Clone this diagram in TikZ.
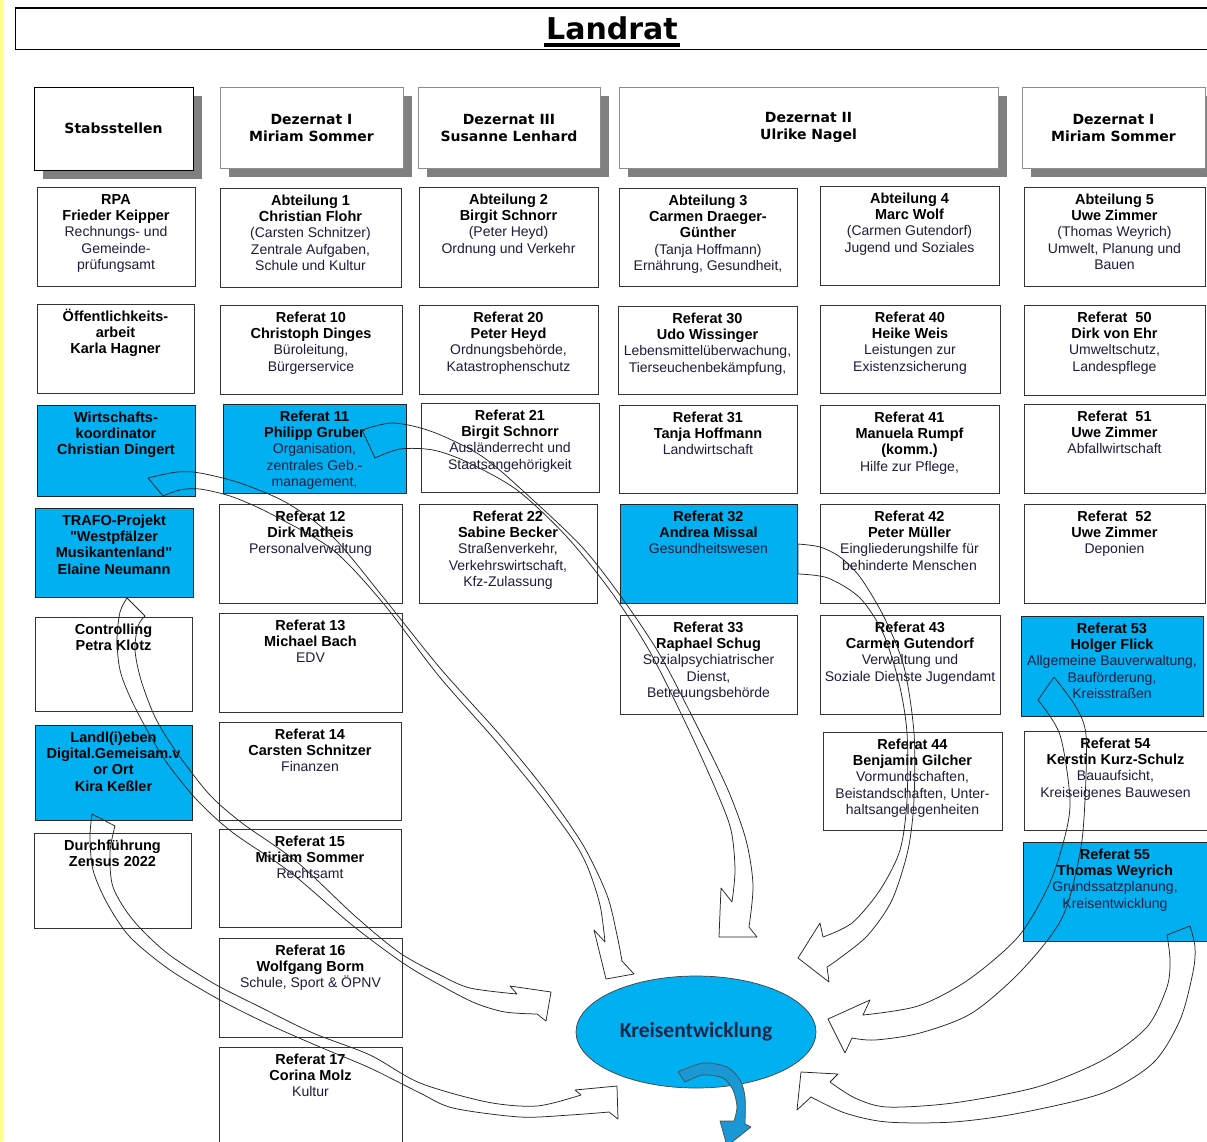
\documentclass[tikz,border=0pt]{standalone}
\usepackage{fontspec}
\setmainfont{Liberation Sans}[Ligatures=TeXOff]
\newfontfamily\dejavu{DejaVu Sans}
\newfontfamily\carlito{Carlito}
\usetikzlibrary{calc,shapes.geometric}
\definecolor{kblue}{HTML}{00B0F0}
\definecolor{txtc}{HTML}{1C1C3C}
\definecolor{shadowc}{HTML}{808080}
\definecolor{yelc}{HTML}{FFFF88}
\definecolor{arrblue}{HTML}{1A98D5}
\definecolor{kntext}{HTML}{14284A}
\tikzset{
  wbox/.style={draw=black!80, line width=1pt, fill=white, inner sep=0pt, outer sep=0pt},
  bbox/.style={draw=black!85, line width=1pt, fill=kblue, inner sep=0pt, outer sep=0pt},
  btext/.style={align=center, inner sep=0pt, font=\fontsize{14.5}{16.3}\selectfont\bfseries},
  hdr/.style={draw=black!45, line width=0.8pt, fill=white, inner sep=0pt, outer sep=0pt, align=center, font=\dejavu\bfseries\fontsize{14}{17}\selectfont},
  hdrS/.style={hdr, draw=black, line width=0.9pt},
  barrow/.style={draw=black!85, line width=0.75pt, line join=round},
}
\newcommand\rgl[1]{{\mdseries\fontsize{14}{16.3}\selectfont\color{txtc}#1}}
\newcommand\obox[7]{%
  \node[#6, minimum width={#4-#2}, minimum height={#5-#3}, anchor=north west] (#1) at (#2,#3) {};
  \node[btext, anchor=north] (#1t) at ($(#1.north)+(0,4.5)$) {\rule{0pt}{12.5pt}#7};
}
\newcommand\hdrbox[7]{%
  \fill[shadowc] ({#2+9},{#3+9}) rectangle ({#4+9},{#5+9});
  \node[#6, minimum width={#4-#2}, minimum height={#5-#3}, anchor=north west] (#1) at (#2,#3) {#7};
}
\begin{document}
\begin{tikzpicture}[x=1pt, y=-1pt]
\useasboundingbox (0,0) rectangle (1207,1141);
\fill[white] (0,0) rectangle (1207,1141);
\fill[yelc] (0,0) rectangle (3,1141);

% Landrat header
\node[draw=black, line width=1.1pt, minimum width=1215, minimum height=41, anchor=north west, inner sep=0pt] (lrframe) at (15,8) {};
\draw[line width=2pt] (lrframe.north west) -- (lrframe.north east);
\node[font=\dejavu\bfseries\fontsize{30}{36}\selectfont, inner sep=0pt, anchor=base] (landrat) at (612,39) {Landrat};
\fill ($(landrat.base west)+(-2,4)$) rectangle ($(landrat.base east)+(2,8)$);

% Dezernat headers
\hdrbox{hS}{34}{87}{193}{170}{hdrS}{Stabsstellen}
\hdrbox{hD1}{220}{87}{403}{168}{hdr}{Dezernat I\\Miriam Sommer}
\hdrbox{hD3}{418}{87}{600}{168}{hdr}{Dezernat III\\Susanne Lenhard}
\hdrbox{hD2}{619}{87}{998}{168}{hdr}{Dezernat II\\Ulrike Nagel}
\hdrbox{hD1b}{1022}{87}{1205}{168}{hdr}{Dezernat I\\Miriam Sommer}

% Stabsstellen
\obox{rpa}{37}{187}{195}{286}{wbox}{RPA\\Frieder Keipper\\\rgl{Rechnungs- und}\\\rgl{Gemeinde-}\\\rgl{prüfungsamt}}
\obox{oeff}{37}{304}{194}{393}{wbox}{Öffentlichkeits-\\arbeit\\Karla Hagner}
\obox{wk}{37}{405}{195}{496}{bbox}{Wirtschafts-\\koordinator\\Christian Dingert}
\obox{trafo}{35}{508}{193}{597}{bbox}{TRAFO-Projekt\\"Westpfälzer\\Musikantenland"\\Elaine Neumann}
\obox{ctrl}{35}{617}{192}{711}{wbox}{Controlling\\Petra Klotz}
\obox{landl}{35}{725}{192}{820}{bbox}{Landl(i)eben\\Digital.Gemeisam.v\\or Ort\\Kira Keßler}
\obox{zensus}{34}{833}{191}{928}{wbox}{Durchführung\\Zensus 2022}

% Dezernat I
\obox{ab1}{220}{188}{401}{287}{wbox}{Abteilung 1\\Christian Flohr\\\rgl{(Carsten Schnitzer)}\\\rgl{Zentrale Aufgaben,}\\\rgl{Schule und Kultur}}
\obox{r10}{220}{305}{402}{394}{wbox}{Referat 10\\Christoph Dinges\\\rgl{Büroleitung,}\\\rgl{Bürgerservice}}
\obox{r11}{223}{404}{406}{493}{bbox}{Referat 11\\Philipp Gruber\\\rgl{Organisation,}\\\rgl{zentrales Geb.-}\\\rgl{management,}}
\obox{r12}{219}{504}{402}{603}{wbox}{Referat 12\\Dirk Matheis\\\rgl{Personalverwaltung}}
\obox{r13}{219}{613}{402}{712}{wbox}{Referat 13\\Michael Bach\\\rgl{EDV}}
\obox{r14}{219}{722}{401}{820}{wbox}{Referat 14\\Carsten Schnitzer\\\rgl{Finanzen}}
\obox{r15}{219}{829}{401}{927}{wbox}{Referat 15\\Miriam Sommer\\\rgl{Rechtsamt}}
\obox{r16}{219}{938}{402}{1037}{wbox}{Referat 16\\Wolfgang Borm\\\rgl{Schule, Sport \& ÖPNV}}
\obox{r17}{219}{1047}{402}{1160}{wbox}{Referat 17\\Corina Molz\\\rgl{Kultur}}

% Dezernat III
\obox{ab2}{419}{187}{598}{287}{wbox}{Abteilung 2\\Birgit Schnorr\\\rgl{(Peter Heyd)}\\\rgl{Ordnung und Verkehr}}
\obox{r20}{419}{305}{598}{394}{wbox}{Referat 20\\Peter Heyd\\\rgl{Ordnungsbehörde,}\\\rgl{Katastrophenschutz}}
\obox{r21}{421}{403}{599}{492}{wbox}{Referat 21\\Birgit Schnorr\\\rgl{Ausländerrecht und}\\\rgl{Staatsangehörigkeit}}
\obox{r22}{419}{504}{597}{603}{wbox}{Referat 22\\Sabine Becker\\\rgl{Straßenverkehr,}\\\rgl{Verkehrswirtschaft,}\\\rgl{Kfz-Zulassung}}

% Dezernat II
\obox{ab3}{619}{188}{797}{286}{wbox}{Abteilung 3\\Carmen Draeger-\\Günther\\\rgl{(Tanja Hoffmann)}\\\rgl{Ernährung, Gesundheit,}}
\obox{r30}{618}{306}{797}{394}{wbox}{Referat 30\\Udo Wissinger\\\rgl{Lebensmittelüberwachung,}\\\rgl{Tierseuchenbekämpfung,}}
\obox{r31}{619}{405}{797}{493}{wbox}{Referat 31\\Tanja Hoffmann\\\rgl{Landwirtschaft}}
\obox{r32}{620}{504}{797}{603}{bbox}{Referat 32\\Andrea Missal\\\rgl{Gesundheitswesen}}
\obox{r33}{620}{615}{797}{714}{wbox}{Referat 33\\Raphael Schug\\\rgl{Sozialpsychiatrischer}\\\rgl{Dienst,}\\\rgl{Betreuungsbehörde}}
\obox{ab4}{820}{186}{999}{285}{wbox}{Abteilung 4\\Marc Wolf\\\rgl{(Carmen Gutendorf)}\\\rgl{Jugend und Soziales}}
\obox{r40}{820}{305}{1000}{393}{wbox}{Referat 40\\Heike Weis\\\rgl{Leistungen zur}\\\rgl{Existenzsicherung}}
\obox{r41}{820}{405}{999}{493}{wbox}{Referat 41\\Manuela Rumpf\\(komm.)\\\rgl{Hilfe zur Pflege,}}
\obox{r42}{820}{504}{999}{603}{wbox}{Referat 42\\Peter Müller\\\rgl{Eingliederungshilfe für}\\\rgl{behinderte Menschen}}
\obox{r43}{820}{615}{1000}{714}{wbox}{Referat 43\\Carmen Gutendorf\\\rgl{Verwaltung und}\\\rgl{Soziale Dienste Jugendamt}}
\obox{r44}{823}{732}{1002}{830}{wbox}{Referat 44\\Benjamin Gilcher\\\rgl{Vormundschaften,}\\\rgl{Beistandschaften, Unter-}\\\rgl{haltsangelegenheiten}}

% Dezernat I (right)
\obox{ab5}{1024}{187}{1205}{286}{wbox}{Abteilung 5\\Uwe Zimmer\\\rgl{(Thomas Weyrich)}\\\rgl{Umwelt, Planung und}\\\rgl{Bauen}}
\obox{r50}{1024}{305}{1205}{395}{wbox}{Referat\ \ 50\\Dirk von Ehr\\\rgl{Umweltschutz,}\\\rgl{Landespflege}}
\obox{r51}{1024}{404}{1205}{493}{wbox}{Referat\ \ 51\\Uwe Zimmer\\\rgl{Abfallwirtschaft}}
\obox{r52}{1024}{504}{1205}{603}{wbox}{Referat\ \ 52\\Uwe Zimmer\\\rgl{Deponien}}
\obox{r53}{1021}{616}{1203}{716}{bbox}{Referat 53\\Holger Flick\\\rgl{Allgemeine Bauverwaltung,}\\\rgl{Bauförderung,}\\\rgl{Kreisstraßen}}
\obox{r54}{1024}{731}{1207}{830}{wbox}{Referat 54\\Kerstin Kurz-Schulz\\\rgl{Bauaufsicht,}\\\rgl{Kreiseigenes Bauwesen}}
\obox{r55}{1023}{842}{1207}{941}{bbox}{Referat 55\\Thomas Weyrich\\\rgl{Grundssatzplanung,}\\\rgl{Kreisentwicklung}}

% Kreisentwicklung
\node[ellipse, minimum width=240, minimum height=112, inner sep=0pt, fill=kblue, draw=black!75, line width=0.7pt, font=\carlito\bfseries\fontsize{21.5}{26}\selectfont, text=kntext] (ke) at (696,1032) {Kreisentwicklung};

% ---- arrow tails (relative to source nodes) and heads ----
\coordinate (wTo) at ($(wk.south west)+(111,-18)$);
\coordinate (wTi) at ($(wk.south west)+(126,0)$);
\coordinate (wB1) at (594,930); \coordinate (wTip) at (606,979); \coordinate (wB2) at (634,974);

\coordinate (aTo) at ($(r11.north west)+(139,26)$);
\coordinate (aTi) at ($(r11.north west)+(152,54)$);
\coordinate (aB1) at (721,888); \coordinate (aTip) at (719,937); \coordinate (aB2) at (757,937);

\coordinate (bTo) at ($(r32.north east)+(1,40)$);
\coordinate (bTi) at ($(r32.north east)+(1,70)$);
\coordinate (bB1) at (820,923); \coordinate (bTip) at (798,958); \coordinate (bB2) at (829,982);

\coordinate (cTo) at ($(r53.north west)+(33,61)$);
\coordinate (cTi) at ($(r53.north west)+(17,84)$);
\coordinate (cB1) at (870,1000); \coordinate (cTip) at (828,1019); \coordinate (cB2) at (845,1053);

\coordinate (dTo) at ($(r55.north west)+(167,84)$);
\coordinate (dTi) at ($(r55.north west)+(144,93)$);
\coordinate (dB1) at (838,1074); \coordinate (dTip) at (801,1072); \coordinate (dB2) at (797,1110);

\coordinate (eTo) at ($(trafo.south west)+(92,1)$);
\coordinate (eTi) at ($(trafo.south west)+(110,19)$);
\coordinate (eB1) at (510,986); \coordinate (eTip) at (551,992); \coordinate (eB2) at (546,1021);

\coordinate (fTo) at ($(landl.south west)+(57,-6)$);
\coordinate (fTi) at ($(landl.south west)+(80,6)$);
\coordinate (fB1) at (575,1090); \coordinate (fTip) at (617,1086); \coordinate (fB2) at (618,1119);

\coordinate (gTo) at ($(ke)+(-18,40)$);
\coordinate (gTi) at ($(ke)+(-11,50)$);
\coordinate (gB1) at (720,1121); \coordinate (gTip) at (727,1146); \coordinate (gB2) at (751,1127);

% Wirtschaftskoordinator -> Kreisentwicklung
\draw[barrow] plot[smooth] coordinates {(wTo) (177,472) (200,473) (240,483) (287,503) (333,537) (383,597) (440,668) (500,735) (545,790) (583,845) (607,895) (617,935) (622,961)}
  -- (wB2) -- (wTip) -- (wB1)
  -- plot[smooth] coordinates {(605,942) (600,905) (588,868) (573,840) (540,795) (495,740) (438,675) (383,603) (333,550) (273,515) (233,497) (200,489) (180,490) (wTi)} -- cycle;

% Referat 11 -> Kreisentwicklung
\draw[barrow] plot[smooth] coordinates {(aTo) (393,423) (433,432) (483,457) (533,500) (583,548) (622,598) (660,655) (698,728) (728,790) (746,840) (753,885) (749,927)}
  -- (aB2) -- (aTip) -- (aB1)
  -- plot[smooth] coordinates {(732,902) (735,870) (731,830) (716,790) (688,728) (650,652) (612,593) (567,537) (517,490) (467,462) (433,450) (400,449) (aTi)} -- cycle;

% Referat 32 -> Kreisentwicklung
\draw[barrow] plot[smooth] coordinates {(bTo) (820,547) (840,557) (860,577) (884,617) (904,667) (914,733) (914,800) (908,850) (892,900) (868,935) (840,958) (827,967)}
  -- (bB2) -- (bTip) -- (bB1)
  -- plot[smooth] coordinates {(823,937) (852,923) (880,890) (900,850) (907,800) (907,733) (899,683) (883,633) (860,598) (828,578) (bTi)} -- cycle;

% Referat 53 -> Kreisentwicklung
\draw[barrow] plot[smooth] coordinates {(cTo) (1076,707) (1086,735) (1085,800) (1080,853) (1062,918) (1022,970) (972,1013) (920,1033) (875,1040) (852,1038)}
  -- (cB2) -- (cTip) -- (cB1)
  -- plot[smooth] coordinates {(863,1015) (918,1006) (968,980) (1018,937) (1048,887) (1064,840) (1070,800) (1060,735) (cTi)} -- cycle;

% Referat 55 -> Kreisentwicklung
\draw[barrow] plot[smooth] coordinates {(dTo) (1195,947) (1193,972) (1180,1020) (1153,1063) (1103,1093) (1020,1113) (953,1122) (887,1122) (845,1113) (811,1097)}
  -- (dB2) -- (dTip) -- (dB1)
  -- plot[smooth] coordinates {(830,1082) (855,1098) (887,1107) (953,1103) (1037,1087) (1103,1060) (1147,1027) (1167,987) (1170,960) (dTi)} -- cycle;

% TRAFO -> Kreisentwicklung
\draw[barrow] plot[smooth] coordinates {(eTo) (120,612) (117,640) (120,670) (130,697) (147,730) (167,763) (197,800) (232,832) (290,872) (352,925) (403,963) (440,985) (475,1003) (505,1012) (537,1014)}
  -- (eB2) -- (eTip) -- (eB1)
  -- plot[smooth] coordinates {(517,994) (470,988) (440,975) (400,953) (355,916) (297,862) (242,823) (209,794) (175,750) (155,717) (141,680) (135,650) (138,626) (eTi)} -- cycle;

% Landl(i)eben -> Kreisentwicklung
\draw[barrow] plot[smooth] coordinates {(fTo) (90,837) (93,870) (107,903) (130,937) (170,970) (220,1000) (270,1025) (320,1047) (370,1068) (420,1093) (453,1108) (520,1117) (570,1115) (609,1112)}
  -- (fB2) -- (fTip) -- (fB1)
  -- plot[smooth] coordinates {(581,1095) (537,1106) (487,1102) (420,1083) (370,1055) (313,1033) (260,1007) (213,983) (167,953) (133,920) (113,887) (110,852) (fTi)} -- cycle;

% outgoing arrow of Kreisentwicklung
\draw[fill=arrblue, draw=black!70, line width=0.7pt, line join=round] plot[smooth] coordinates {(gTo) (703,1063) (727,1067) (740,1080) (745,1097) (745,1124)}
  -- (gB2) -- (gTip) -- (gB1)
  -- plot[smooth] coordinates {(734,1121) (737,1107) (733,1090) (723,1078) (703,1075) (gTi)} -- cycle;
\end{tikzpicture}
\end{document}
